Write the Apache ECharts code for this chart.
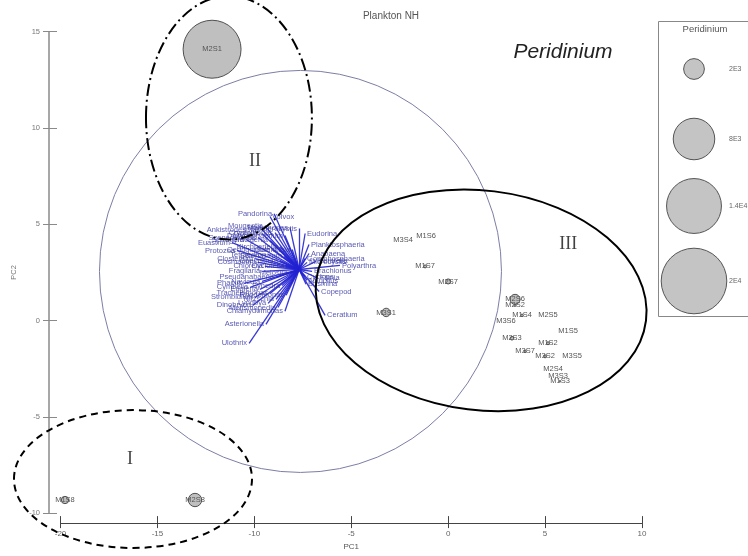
<!DOCTYPE html>
<html><head><meta charset="utf-8">
<script src="https://cdn.jsdelivr.net/npm/echarts@6/dist/echarts.min.js"></script>
<style>html,body{margin:0;padding:0;background:#fff}#c{width:748px;height:556px}</style>
</head><body><div id="c"></div>
<script>
// ---------- data ----------
const chartTitle = 'Plankton NH';
const attributeName = 'Peridinium';
const xTickMin = -20, xTickMax = 10, tickStep = 5;
const yTickMin = -10, yTickMax = 15;

// sample (site) scores and Peridinium abundance
const siteNames = ['M2S1','M3S4','M1S6','M1S7','M2S7','M3S1','M2S6','M2S2','M1S4','M2S5','M3S6','M1S5','M2S3','M1S2','M3S7','M3S2','M3S5','M2S4','M3S3','M1S3','M1S8','M2S8'];
const siteX = [-12.18,-2.33,-1.14,-1.19,0.00,-3.20,3.45,3.45,3.81,5.15,2.98,6.19,3.29,5.15,3.97,5.00,6.39,5.41,5.67,5.77,-19.77,-13.06];
const siteY = [14.09,4.21,4.41,2.81,2.03,0.42,1.10,0.79,0.27,0.27,-0.04,-0.56,-0.92,-1.18,-1.60,-1.86,-1.86,-2.53,-2.89,-3.15,-9.32,-9.32];
const sitePeridinium = [15600,0,0,40,120,330,470,20,30,0,0,0,60,40,30,40,0,0,0,10,250,830];

// species vectors
const biplotOrigin = [-7.69, 2.65];
const speciesNames = ['Pandorina','Volvox','Ankistrodesmus','Sphaerocystis','Mougeotia','Scenedesmus','Dictyosphaerium','Cryptomonas','Euastrum','Crucigenia','Protozoa','Kirchneriella','Golenkinia','Tetraedron','Selenastrum','Closterium','Cosmarium','Coelastrum','Chlorella','Cyclotella','Melosira','Pseudanabaena','Navicula','Synedra','Phacus','Euglena','Trachelomonas','Strombidium','Nitzschia','Dinobryon','Merismopedia','Chlamydomonas','Asterionella','Ulothrix',
  'Gonium','Spirogyra','Oedogonium','Fragilaria','Cymbella','Lyngbya','Rhodomonas','Mallomonas',
  'Eudorina','Planktosphaeria','Anabaena','Gomphosphaeria','Microcystis','Keratella','Polyarthra','Brachionus','Cyclops','Nauplius','Filinia','Bosmina','Copepod','Ceratium'];
const speciesX = [-8.98,-9.19,-9.60,-7.69,-9.45,-9.81,-8.42,-8.93,-11.15,-9.19,-10.89,-8.67,-8.05,-9.29,-8.47,-9.96,-9.81,-8.67,-9.45,-8.36,-8.16,-8.88,-9.60,-8.57,-10.53,-9.71,-9.19,-9.96,-8.88,-10.07,-8.78,-8.42,-9.40,-10.27,
  -9.60,-10.43,-9.09,-9.60,-10.22,-9.29,-8.36,-8.16,
  -7.38,-7.18,-7.18,-7.38,-7.28,-6.82,-5.58,-7.02,-7.38,-7.28,-6.71,-7.33,-6.66,-6.35];
const speciesY = [5.55,5.40,4.73,4.78,4.93,4.31,4.41,4.57,4.05,4.16,3.64,3.84,3.69,3.43,3.33,3.22,3.02,3.07,2.81,2.86,2.45,2.24,2.03,1.82,1.93,1.62,1.41,1.20,1.10,0.79,0.68,0.48,-0.20,-1.18,
  4.52,4.21,3.69,2.55,1.72,0.89,1.31,4.83,
  4.52,3.95,3.48,3.22,3.02,3.07,2.86,2.55,2.29,2.08,2.19,1.88,1.51,0.27];

// equilibrium (correlation) circle: centre x, centre y, radius
const circleCX = [-7.62], circleCY = [2.55], circleR = [10.37];

// hand-drawn group ellipses
const groupLabels = ['I','II','III'];
const groupCX = [-16.26,-11.31,1.70];
const groupCY = [-8.23,10.53,1.05];
const groupRX = [6.14,4.28,8.57];
const groupRY = [3.58,6.32,5.70];
const groupTilt = [0,0,-7];
const groupLabelX = [-16.41,-9.96,6.19];
const groupLabelY = [-7.19,8.25,3.95];

// bubble legend
const legendValues = [2000,8000,14000,20000];
const legendLabels = ['2E3','8E3','1.4E4','2E4'];

// ---------- chart ----------
const bubbleRadius = v => 0.232 * Math.sqrt(v);
const rightLabeled = new Set(['Volvox']);
const font = 'Liberation Sans, Arial, sans-serif';
const chart = echarts.init(document.getElementById('c'), null, {renderer:'canvas'});

const dashes = [[7,5],[12,4,2,4],null];

const legendGraphics = [
  {type:'rect', shape:{x:658.5, y:21.5, width:100, height:295}, style:{fill:'#fff', stroke:'#888', lineWidth:1}, z:10},
  {type:'text', x:705, y:29, style:{text:attributeName, font:'9.5px '+font, fill:'#555', textAlign:'center', textVerticalAlign:'middle'}, z:11},
  {type:'text', x:563, y:52, style:{text:attributeName, font:'italic 21px '+font, fill:'#222', textAlign:'center', textVerticalAlign:'middle'}, z:12}
];
const legendCY = [69, 139, 206, 281];
legendValues.forEach((v,i)=>{
  legendGraphics.push({type:'circle', shape:{cx:694, cy:legendCY[i], r:bubbleRadius(v)}, style:{fill:'#c4c4c4', stroke:'#555', lineWidth:1}, z:11});
  legendGraphics.push({type:'text', x:729, y:legendCY[i], style:{text:legendLabels[i], font:'7px '+font, fill:'#666', textAlign:'left', textVerticalAlign:'middle'}, z:11});
});

const axisBase = {type:'value', min:xTickMin, max:xTickMax, interval:tickStep, splitLine:{show:false}};
const yBase = {type:'value', min:yTickMin, max:yTickMax, interval:tickStep, splitLine:{show:false}};

const option = {
  animation:false,
  backgroundColor:'#fff',
  textStyle:{fontFamily:font},
  title:{text:chartTitle, left:386, top:6, textAlign:'center', textStyle:{fontSize:10, fontWeight:'normal', color:'#555', fontFamily:font}},
  grid:{left:60.5, right:106, top:31.7, bottom:41.7, containLabel:false},
  xAxis:[
    Object.assign({}, axisBase, {position:'bottom', offset:10,
      axisLine:{onZero:false, lineStyle:{color:'#444', width:1}},
      axisTick:{inside:true, length:7, lineStyle:{color:'#444'}},
      axisLabel:{fontSize:8, color:'#666', margin:7, fontFamily:font},
      name:'PC1', nameLocation:'middle', nameGap:17, nameTextStyle:{fontSize:8, color:'#555', fontFamily:font}}),
    Object.assign({}, axisBase, {position:'bottom', offset:10,
      axisLine:{show:false, onZero:false}, axisTick:{inside:false, length:5, lineStyle:{color:'#444'}}, axisLabel:{show:false}})
  ],
  yAxis:[
    Object.assign({}, yBase, {position:'left', offset:11.5,
      axisLine:{onZero:false, lineStyle:{color:'#8a8a8a', width:1.5}},
      axisTick:{inside:true, length:8, lineStyle:{color:'#8a8a8a'}},
      axisLabel:{fontSize:7.5, color:'#777', margin:9, fontFamily:font},
      name:'PC2', nameLocation:'middle', nameGap:21, nameRotate:90, nameTextStyle:{fontSize:7.5, color:'#777', fontFamily:font}}),
    Object.assign({}, yBase, {position:'left', offset:11.5,
      axisLine:{show:false, onZero:false}, axisTick:{inside:false, length:6, lineStyle:{color:'#8a8a8a'}}, axisLabel:{show:false}})
  ],
  graphic: legendGraphics,
  series:[
    {type:'custom', name:'circle', xAxisIndex:0, yAxisIndex:0, silent:true, z:1, clip:false,
      data: circleCX.map((x,i)=>[x, circleCY[i], circleR[i]]),
      renderItem:(params, api)=>{
        const c = api.coord([api.value(0), api.value(1)]);
        const r = api.size([api.value(2), 0])[0];
        return {type:'circle', shape:{cx:c[0], cy:c[1], r:r}, style:{fill:'none', stroke:'#7c7ea6', lineWidth:1}};
      }},
    {type:'lines', coordinateSystem:'cartesian2d', xAxisIndex:0, yAxisIndex:0, silent:true, z:2,
      symbol:['none','none'],
      lineStyle:{color:'#2222d2', width:1.3, opacity:0.9},
      data: speciesNames.map((n,i)=>({coords:[biplotOrigin, [speciesX[i], speciesY[i]]]}))},
    {type:'scatter', xAxisIndex:0, yAxisIndex:0, silent:true, z:3, symbolSize:0,
      data: speciesNames.map((n,i)=>{
        const right = speciesX[i] > biplotOrigin[0] || rightLabeled.has(n);
        return {name:n, value:[speciesX[i], speciesY[i]], label:{position: right ? 'right':'left'}};
      }),
      label:{show:true, formatter:'{b}', distance:2, fontSize:7.5, color:'#2f2fa2', fontFamily:font}},
    {type:'scatter', xAxisIndex:0, yAxisIndex:0, silent:true, z:4,
      data: siteNames.map((n,i)=>({name:n, value:[siteX[i], siteY[i], sitePeridinium[i]]})),
      symbolSize: v => 2*bubbleRadius(v[2]),
      itemStyle:{color:'#bfbfbf', borderColor:'#505050', borderWidth:1, opacity:1},
      label:{show:true, position:'inside', formatter:'{b}', fontSize:7.5, color:'#555', fontFamily:font}},
    {type:'custom', name:'groups', xAxisIndex:0, yAxisIndex:0, silent:true, z:6, clip:false,
      data: groupCX.map((x,i)=>[x, groupCY[i], groupRX[i], groupRY[i], groupTilt[i]]),
      renderItem:(params, api)=>{
        const c = api.coord([api.value(0), api.value(1)]);
        const s = api.size([api.value(2), api.value(3)]);
        return {type:'ellipse', x:c[0], y:c[1], rotation: api.value(4)*Math.PI/180,
          shape:{cx:0, cy:0, rx:s[0], ry:s[1]},
          style:{fill:'none', stroke:'#000', lineWidth:2, lineDash:dashes[params.dataIndex]}};
      }},
    {type:'scatter', xAxisIndex:0, yAxisIndex:0, silent:true, z:7, symbolSize:0,
      data: groupLabels.map((n,i)=>({name:n, value:[groupLabelX[i], groupLabelY[i]]})),
      label:{show:true, position:'inside', formatter:'{b}', fontSize:18, color:'#111', fontFamily:'Liberation Serif, Times New Roman, serif'}}
  ]
};
chart.setOption(option);
</script>
</body></html>
